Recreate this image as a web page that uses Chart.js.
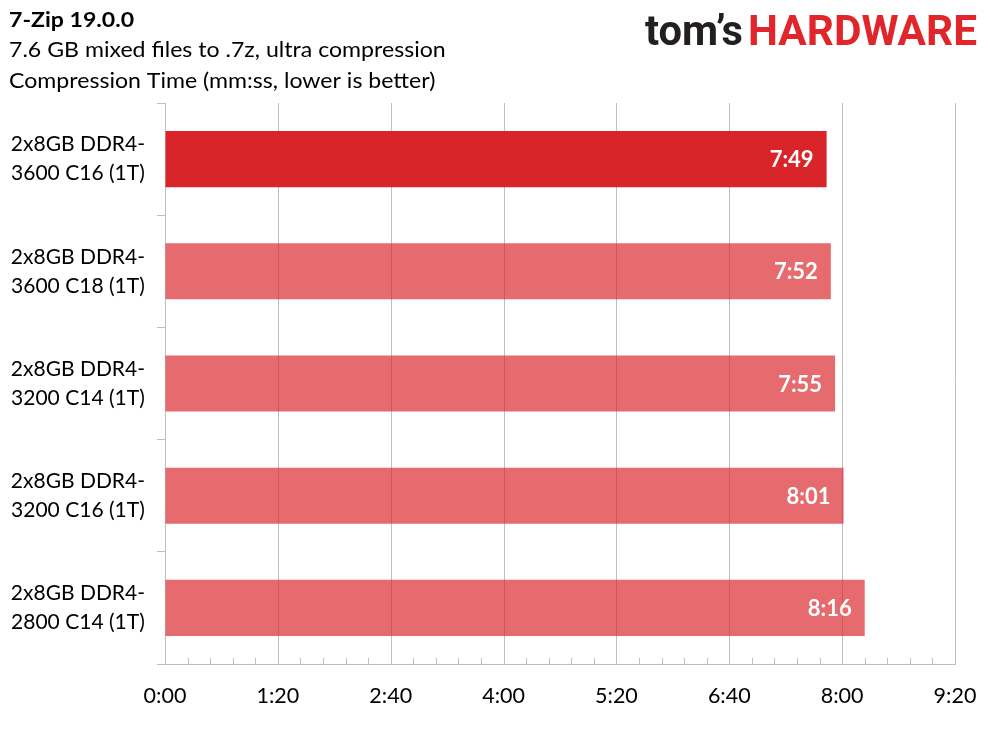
<!DOCTYPE html>
<html>
<head>
<meta charset="utf-8">
<script src="https://cdn.jsdelivr.net/npm/chart.js@4/dist/chart.umd.min.js"></script>
<style>
  html, body { margin: 0; padding: 0; background: #fff; }
  #wrap { width: 990px; height: 741px; }
</style>
</head>
<body>
<div id="wrap"><canvas id="chart"></canvas></div>
<script>
// data (seconds)
const categories = [
    ['2x8GB DDR4-', '3600 C16 (1T)'],
    ['2x8GB DDR4-', '3600 C18 (1T)'],
    ['2x8GB DDR4-', '3200 C14 (1T)'],
    ['2x8GB DDR4-', '3200 C16 (1T)'],
    ['2x8GB DDR4-', '2800 C14 (1T)'],
];
const seconds = [469, 472, 475, 481, 496];
const titleLines = [
    '7-Zip 19.0.0',
    '7.6 GB mixed files to .7z, ultra compression',
    'Compression Time (mm:ss, lower is better)',
];
const axisMax = 560;
const majorStep = 80;
const minorStep = 16;

const FONT = 'Lato, "Open Sans", sans-serif';
const GRID = '#BFBFBF';
const barColors = seconds.map((v, i) => i === 0 ? '#D9252A' : 'rgba(217,37,42,0.68)');

function mmss(s) {
    const m = Math.floor(s / 60);
    const r = Math.round(s % 60);
    return m + ':' + String(r).padStart(2, '0');
}

// title + logo
const headerPlugin = {
    id: 'header',
    afterDraw(chart) {
        const ctx = chart.ctx;
        ctx.save();
        ctx.fillStyle = '#000';
        ctx.textBaseline = 'middle';
        ctx.textAlign = 'left';
        titleLines.forEach((t, i) => {
            ctx.font = (i === 0 ? 'bold ' : '') + '21px ' + FONT;
            ctx.save();
            ctx.translate(9, 20 + i * 30.5);
            ctx.scale(1.1, 1);
            ctx.fillText(t, 0, 0);
            ctx.restore();
        });

        // logo
        ctx.textBaseline = 'alphabetic';
        ctx.font = 'bold 43px Roboto, sans-serif';
        const a = 'tom’s', b = 'HARDWARE';
        const wa = ctx.measureText(a).width, wb = ctx.measureText(b).width;
        ctx.save();
        ctx.translate(645, 45);
        ctx.scale(98 / wa, 1);
        ctx.fillStyle = '#231F20';
        ctx.fillText(a, 0, 0);
        ctx.restore();
        ctx.save();
        ctx.translate(748, 45);
        ctx.scale(229 / wb, 1);
        ctx.fillStyle = '#E0262B';
        ctx.fillText(b, 0, 0);
        ctx.restore();
        ctx.restore();
    }
};

// major gridlines behind the bars
const gridPlugin = {
    id: 'grid',
    beforeDatasetsDraw(chart) {
        const ctx = chart.ctx;
        const x = chart.scales.x, y = chart.scales.y;
        ctx.save();
        ctx.strokeStyle = GRID;
        ctx.lineWidth = 1;
        for (let v = 0; v <= axisMax; v += majorStep) {
            const px = Math.round(x.getPixelForValue(v)) + 0.5;
            ctx.beginPath();
            ctx.moveTo(px, y.top);
            ctx.lineTo(px, y.bottom);
            ctx.stroke();
        }
        ctx.restore();
    },
    // minor ticks on the x axis + value labels on the bars
    afterDatasetsDraw(chart) {
        const ctx = chart.ctx;
        const x = chart.scales.x;
        const bottom = chart.scales.y.bottom;
        ctx.save();
        ctx.strokeStyle = GRID;
        ctx.lineWidth = 1;
        for (let v = minorStep; v < axisMax; v += minorStep) {
            if (v % majorStep === 0) continue;
            const px = Math.round(x.getPixelForValue(v)) + 0.5;
            ctx.beginPath();
            ctx.moveTo(px, bottom);
            ctx.lineTo(px, bottom - 6);
            ctx.stroke();
        }

        ctx.fillStyle = '#fff';
        ctx.font = 'bold 22px ' + FONT;
        ctx.textAlign = 'right';
        ctx.textBaseline = 'middle';
        chart.getDatasetMeta(0).data.forEach((bar, i) => {
            ctx.fillText(mmss(seconds[i]), bar.x - 13, bar.y + 1);
        });
        ctx.restore();
    }
};

new Chart(document.getElementById('chart'), {
    type: 'bar',
    data: {
        labels: categories,
        datasets: [{
            data: seconds,
            backgroundColor: barColors,
            borderWidth: 0,
            categoryPercentage: 1,
            barPercentage: 0.5,
        }]
    },
    options: {
        indexAxis: 'y',
        responsive: true,
        maintainAspectRatio: false,
        animation: false,
        layout: { padding: { top: 103, right: 35, left: 0, bottom: 0 } },
        plugins: {
            legend: { display: false },
            tooltip: { enabled: false },
        },
        scales: {
            x: {
                min: 0,
                max: axisMax,
                afterFit(scale) {
                    scale.height = 77;
                    scale.paddingLeft = 0;
                    scale.paddingRight = 0;
                },
                ticks: {
                    stepSize: majorStep,
                    callback: v => mmss(v),
                    color: '#000',
                    font: { family: FONT, size: 21.5 },
                    padding: 19,
                    maxRotation: 0,
                },
                grid: {
                    drawOnChartArea: false,
                    tickLength: 0,
                    color: GRID,
                },
                border: { color: GRID, width: 1 },
            },
            y: {
                afterFit(scale) { scale.width = 165; },
                ticks: {
                    color: '#000',
                    font: { family: FONT, size: 21, lineHeight: 1.38 },
                    crossAlign: 'center',
                    padding: 12,
                },
                grid: {
                    display: true,
                    offset: true,
                    drawOnChartArea: false,
                    tickLength: 8,
                    color: GRID,
                },
                border: { display: false },
            }
        }
    },
    plugins: [headerPlugin, gridPlugin]
});
</script>
</body>
</html>
